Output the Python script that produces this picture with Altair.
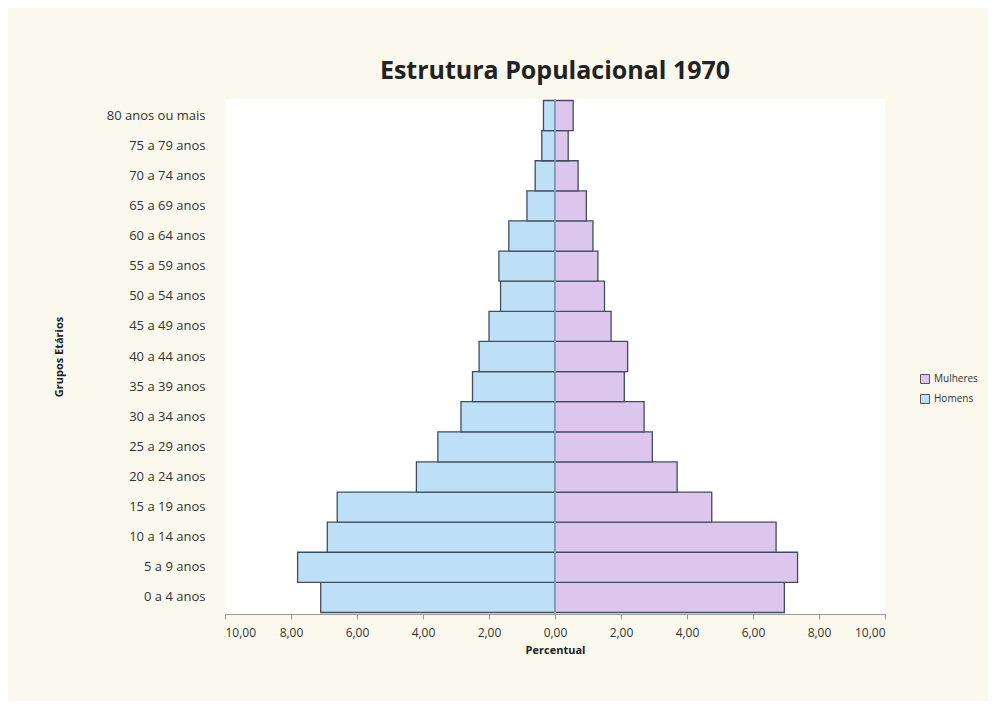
import altair as alt
import pandas as pd

grupos = ["0 a 4 anos", "5 a 9 anos", "10 a 14 anos", "15 a 19 anos", "20 a 24 anos",
          "25 a 29 anos", "30 a 34 anos", "35 a 39 anos", "40 a 44 anos", "45 a 49 anos",
          "50 a 54 anos", "55 a 59 anos", "60 a 64 anos", "65 a 69 anos", "70 a 74 anos",
          "75 a 79 anos", "80 anos ou mais"]
homens = [7.1, 7.8, 6.9, 6.6, 4.2, 3.55, 2.85, 2.5, 2.3, 2.0, 1.65, 1.7, 1.4, 0.85, 0.6, 0.4, 0.35]
mulheres = [6.95, 7.35, 6.7, 4.75, 3.7, 2.95, 2.7, 2.1, 2.2, 1.7, 1.5, 1.3, 1.15, 0.95, 0.7, 0.4, 0.55]
ticks = [-10, -8, -6, -4, -2, 0, 2, 4, 6, 8, 10]

rows = []
for g, h, m in zip(grupos, homens, mulheres):
    rows.append({"grupo": g, "sexo": "Homens", "valor": -h})
    rows.append({"grupo": g, "sexo": "Mulheres", "valor": m})
df = pd.DataFrame(rows)

font = "Open Sans"

bars = alt.Chart(df).mark_bar(stroke="#3f4d5e", strokeWidth=1.3).encode(
    x=alt.X("valor:Q",
            scale=alt.Scale(domain=[-10, 10], nice=False),
            axis=alt.Axis(values=ticks, grid=False, title="Percentual",
                          labelExpr="replace(format(abs(datum.value), '.2f'), '.', ',')",
                          labelFont=font, labelFontSize=12, labelColor="#333",
                          titleFont=font, titleFontSize=11, titleFontWeight="bold",
                          titleColor="#222", domainColor="#999", tickColor="#999",
                          tickSize=5, labelPadding=8, titlePadding=6)),
    y=alt.Y("grupo:N", sort=grupos[::-1],
            scale=alt.Scale(paddingInner=0, paddingOuter=0.05),
            axis=alt.Axis(title="Grupos Etários", ticks=False, domain=False,
                          labelFont=font, labelFontSize=13, labelColor="#333",
                          labelPadding=20, titleFont=font, titleFontSize=11,
                          titleFontWeight="bold", titleColor="#222", titlePadding=42)),
    color=alt.Color("sexo:N",
                    scale=alt.Scale(domain=["Mulheres", "Homens"],
                                    range=["#dcc6ee", "#bde0f7"]),
                    legend=alt.Legend(title=None, orient="none", legendX=695, legendY=275,
                                      symbolType="square", symbolSize=80,
                                      symbolStrokeColor="#555", symbolStrokeWidth=1,
                                      labelFont=font, labelFontSize=10, labelColor="#333",
                                      rowPadding=6))
)

zero = alt.Chart(pd.DataFrame({"v": [0]})).mark_rule(color="#8fb4cf", strokeWidth=1.5).encode(x="v:Q")

chart = alt.layer(bars, zero).properties(
    width=660, height=515,
    title=alt.TitleParams("Estrutura Populacional 1970", font=font, fontSize=25,
                          fontWeight="bold", color="#222", anchor="middle",
                          frame="group", offset=14),
    background="#fbf9ee",
    padding={"left": 45, "top": 51, "right": 10, "bottom": 46},
).configure_view(fill="white", stroke=None)

chart.save("out.html", embed_options={"renderer": "svg", "actions": False})
